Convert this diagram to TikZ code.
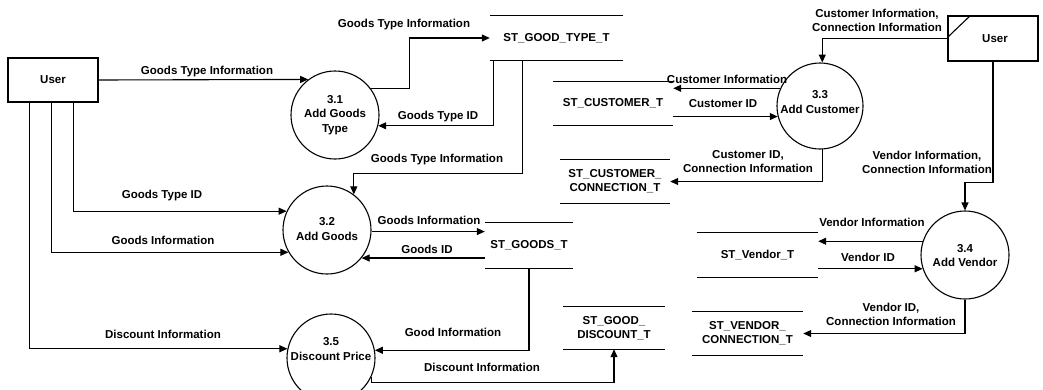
\documentclass[tikz,border=0pt]{standalone}
\usepackage{fontspec}
\setmainfont{Liberation Sans}
\usetikzlibrary{arrows.meta,calc}
\newcommand\stlines[1]{\draw[line width=1.1pt] (#1.north west) -- (#1.north east) (#1.south west) -- (#1.south east);}
\begin{document}
\begin{tikzpicture}[x=1pt,y=-1pt,
  every node/.style={font=\fontsize{11.5}{14}\selectfont\bfseries, inner sep=0pt, align=center},
  proc/.style={circle, draw, line width=1.1pt, minimum size=88pt},
  ptext/.style={font=\fontsize{11.5}{14.5}\selectfont\bfseries},
  ent/.style={draw, line width=1.1pt, minimum width=90pt, minimum height=44pt},
  store/.style={minimum height=44pt},
  arr/.style={line width=1.1pt, -{Triangle[length=8pt,width=7pt]}},
  lbl/.style={}
]
\useasboundingbox (0,0) rectangle (1043,389);
\clip (0,0) rectangle (1043,389);

% external entities
\node[ent] (u1) at (53,80) {User};
\node[ent, minimum height=45pt] (u2) at (993,38.5) {};
\node (u2t) at (995,39) {User};
\draw[line width=1.1pt] ($(u2.north west)+(0,22)$) -- ($(u2.north west)+(23,0)$);

% processes
\node[proc] (c31) at (335,115) {};
\node[ptext] (t31) at (335,115) {3.1\\Add Goods\\Type};
\node[proc] (c32) at (327,230) {};
\node[ptext] (t32) at (327,229) {3.2\\Add Goods};
\node[proc, minimum size=86pt] (c33) at (820,106) {};
\node[ptext] (t33) at (820,102) {3.3\\Add Customer};
\node[proc] (c34) at (965,255) {};
\node[ptext] (t34) at (965,255.5) {3.4\\Add Vendor};
\node[proc] (c35) at (331,358) {};
\node[ptext] (t35) at (331,349) {3.5\\Discount Price};

% data stores
\node[store, minimum width=133pt] (s1) at (556.5,38) {ST\_GOOD\_TYPE\_T};
\node[store, minimum width=120pt] (s2) at (613,103.5) {ST\_CUSTOMER\_T};
\node[store, minimum width=110pt, minimum height=43pt] (s3) at (615,181.5) {ST\_CUSTOMER\_\\CONNECTION\_T};
\node[store, minimum width=88pt, minimum height=45pt] (s4) at (529,245.5) {ST\_GOODS\_T};
\node[store, minimum width=102pt, minimum height=42pt] (s5) at (614,328) {ST\_GOOD\_\\DISCOUNT\_T};
\node[store, minimum width=121pt] (s6) at (757.5,255) {ST\_Vendor\_T};
\node[store, minimum width=111pt, minimum height=43pt] (s7) at (747.5,333.5) {ST\_VENDOR\_\\CONNECTION\_T};
\stlines{s1}\stlines{s2}\stlines{s3}\stlines{s4}\stlines{s5}\stlines{s6}\stlines{s7}

% connectors
\draw[arr] (u1.east) -- (c31.127.3);
\draw[arr] ($(u1.south west)+(66,0)$) |- (c32.155.9);
\draw[arr] ($(u1.south west)+(44,0)$) |- (c32.210);
\draw[arr] ($(u1.south west)+(22,0)$) |- (c35.168.2);
\draw[arr] (c31.36.2) -- ++(38.5,0) |- (s1.west);
\draw[arr] ($(s1.south west)+(4,0)$) |- (c31.-14.5);
\draw[arr] ($(s1.south west)+(33,0)$) -- ++(0,113) -| (c32.53.8);
\draw[arr] (c33.156.7) -- (c33.156.7 -| s2.east);
\draw[arr] (s2.east |- c33.194.8) -- (c33.194.8);
\draw[arr] (u2.west) -| (c33.87.3);
\draw[arr] (u2.south) -- ++(0,121) -| (c34.north);
\draw[arr] (c33.-87.3) |- (s3.east);
\draw[arr] (c32.-2.6) -- (c32.-2.6 -| s4.west);
\draw[arr] (s4.west |- c32.-39.5) -- (c32.-39.5);
\draw[arr] (s4.south) |- (c35.10.5);
\draw[arr] (c35.-25) |- ($(s5.south)+(0,33)$) -- (s5.south);
\draw[arr] (c34.162.8) -- (c34.162.8 -| s6.east);
\draw[arr] (s6.east |- c34.198.6) -- (c34.198.6);
\draw[arr] (c34.south) |- (s7.east);

% labels
\node[lbl] (l1) at (207,72) {Goods Type Information};
\node[lbl] (l2) at (162,196) {Goods Type ID};
\node[lbl] (l3) at (163,240) {Goods Information};
\node[lbl] (l4) at (163,334) {Discount Information};
\node[lbl] (l5) at (404,25) {Goods Type Information};
\node[lbl] (l6) at (438,117) {Goods Type ID};
\node[lbl] (l7) at (437,160) {Goods Type Information};
\node[lbl] (l8) at (727,79) {Customer Information};
\node[lbl] (l9) at (723,104) {Customer ID};
\node[lbl] (l10) at (877,20.5) {Customer Information,\\Connection Information};
\node[lbl] (l11) at (927,162) {Vendor Information,\\Connection Information};
\node[lbl] (l12) at (748,162) {Customer ID,\\Connection Information};
\node[lbl] (l13) at (429,220) {Goods Information};
\node[lbl] (l14) at (427,249) {Goods ID};
\node[lbl] (l15) at (453,332) {Good Information};
\node[lbl] (l16) at (482,367) {Discount Information};
\node[lbl] (l17) at (872,222) {Vendor Information};
\node[lbl] (l18) at (868,257) {Vendor ID};
\node[lbl] (l19) at (891,314.5) {Vendor ID,\\Connection Information};
\end{tikzpicture}
\end{document}
